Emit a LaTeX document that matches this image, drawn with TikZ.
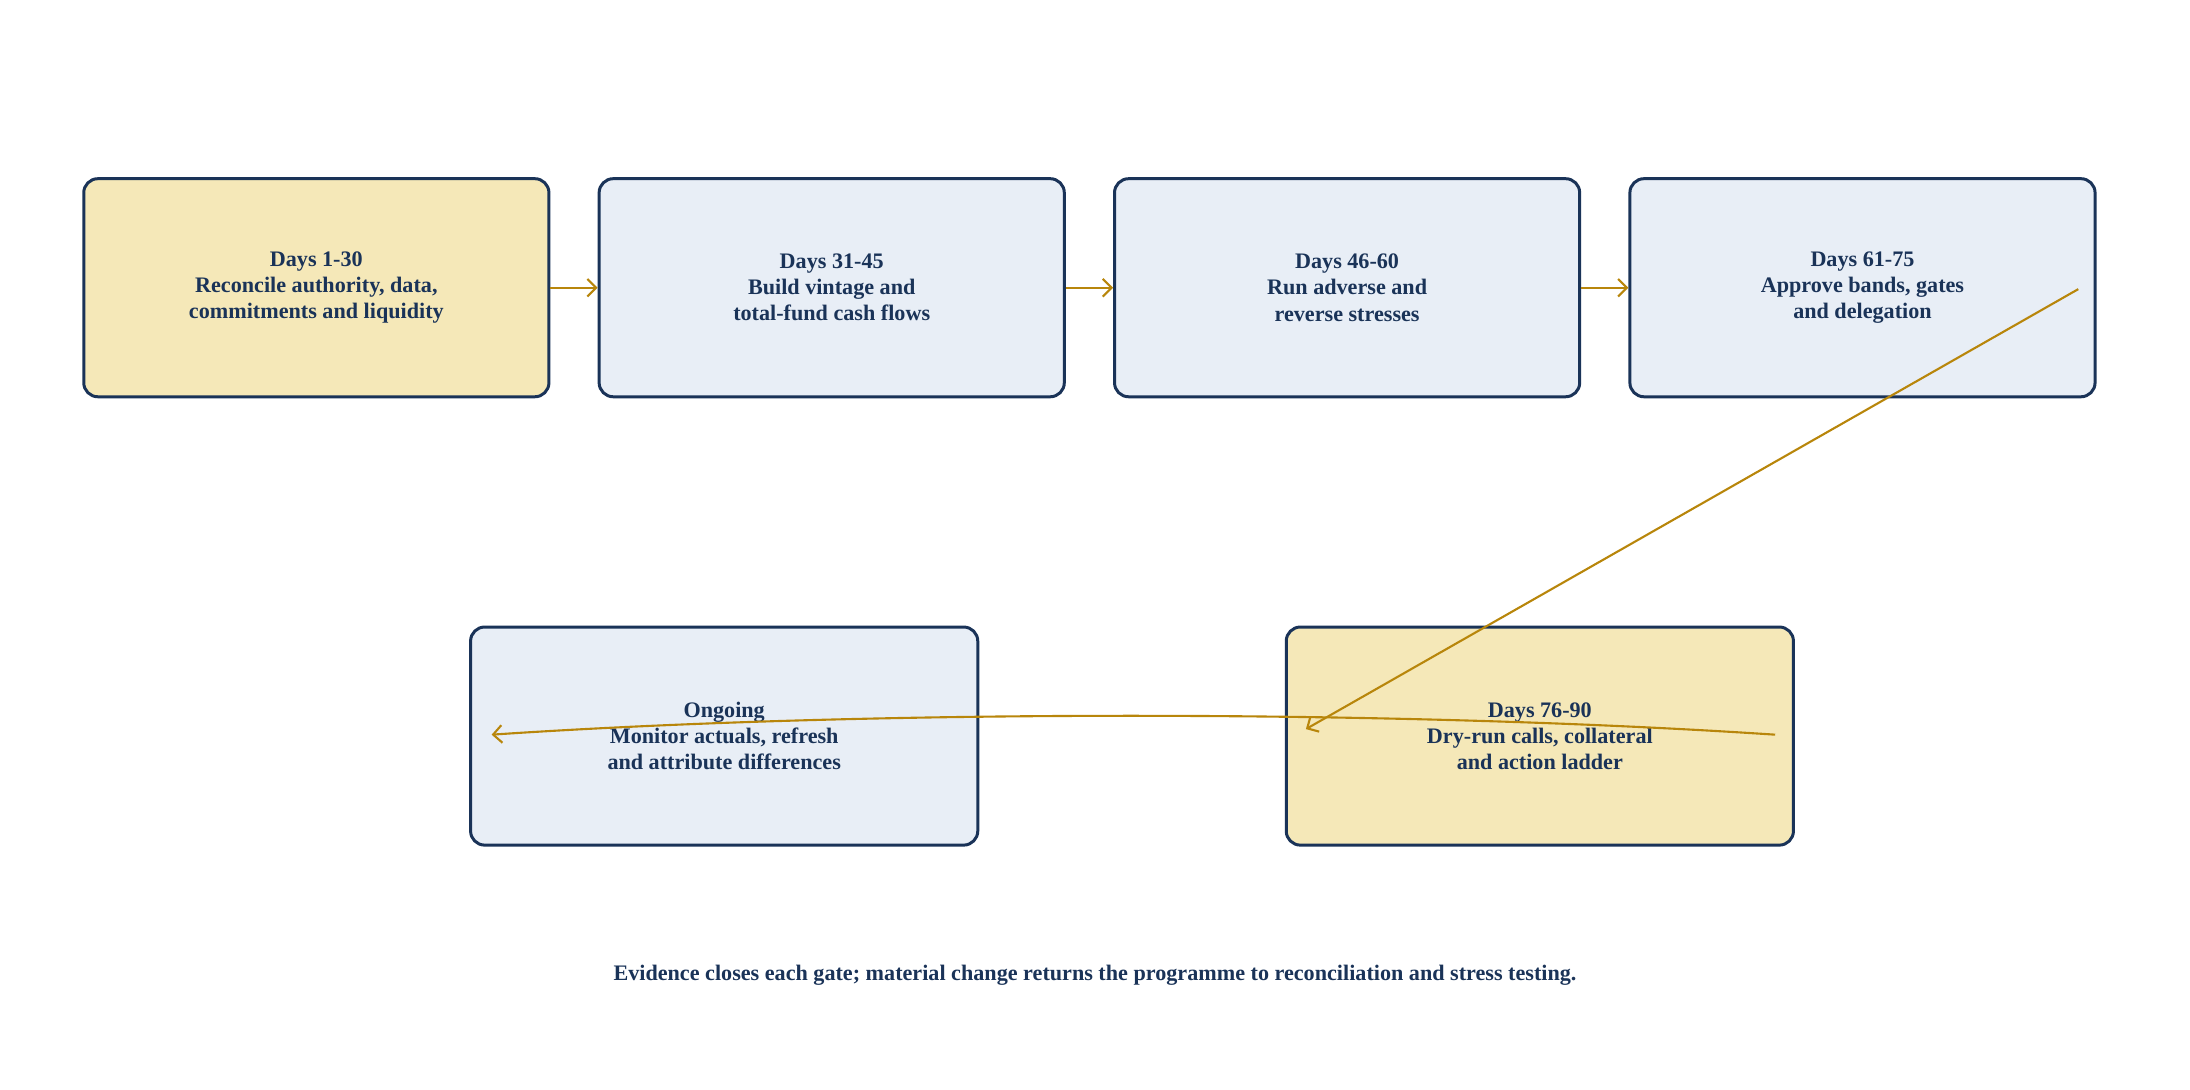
\documentclass[tikz,border=0pt]{standalone}
\usepackage{fontspec}
\setmainfont{Liberation Serif}
\usetikzlibrary{positioning,arrows.meta}
\definecolor{navy}{HTML}{1A3358}
\definecolor{gold}{HTML}{B8860B}
\definecolor{sand}{HTML}{F5E8B8}
\definecolor{mist}{HTML}{E8EEF6}
\tikzset{
  stage/.style={draw=navy, line width=0.85pt, rounded corners=4pt, align=center,
    text=navy, font=\fontsize{6.3}{7.4}\selectfont\bfseries,
    minimum width=4.65cm, minimum height=2.18cm, inner sep=0pt},
  flow/.style={draw=gold, line width=0.6pt, -{Straight Barb[length=2.5pt,width=5pt]}}
}
\begin{document}
\begin{tikzpicture}[x={0.013967cm},y={-0.013967cm}]
\useasboundingbox (0,0) rectangle (1568,780);
\node (d1) [stage, fill=sand] at (226.5,206) {Days 1-30\\Reconcile authority, data,\\commitments and liquidity};
\node (d31) [stage, fill=mist] at (595.5,206) {Days 31-45\\Build vintage and\\total-fund cash flows};
\node (d46) [stage, fill=mist] at (964.5,206) {Days 46-60\\Run adverse and\\reverse stresses};
\node (d61) [stage, fill=mist] at (1333.5,206) {Days 61-75\\Approve bands, gates\\and delegation};
\node (d76) [stage, fill=sand, minimum width=5.07cm] at (1102.5,527) {Days 76-90\\Dry-run calls, collateral\\and action ladder};
\node (on) [stage, fill=mist, minimum width=5.07cm] at (518.5,527) {Ongoing\\Monitor actuals, refresh\\and attribute differences};
\node (note) [text=navy, font=\fontsize{6.3}{7.4}\selectfont\bfseries] at (784,698)
  {Evidence closes each gate; material change returns the programme to reconciliation and stress testing.};
\coordinate (s61) at (1488,207);
\coordinate (e76) at (935,522);
\coordinate (s76) at (1271,526);
\coordinate (eon) at (352,526);
\draw[flow] (d1.east) -- (d31.west);
\draw[flow] (d31.east) -- (d46.west);
\draw[flow] (d46.east) -- (d61.west);
\draw[flow] (s61) -- (e76);
\draw[flow] (s76) .. controls (1000,508) and (620,508) .. (eon);
\end{tikzpicture}
\end{document}
